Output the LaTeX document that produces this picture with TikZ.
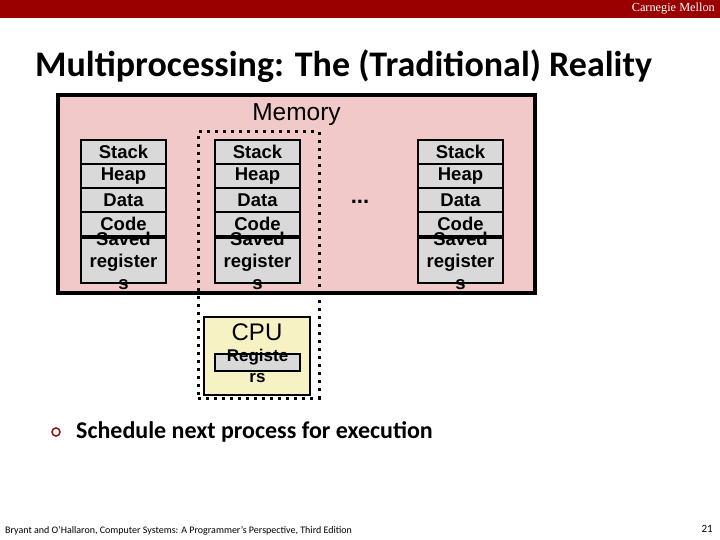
\documentclass[tikz,border=0pt]{standalone}
\usepackage{fontspec}
\setmainfont{Carlito}
\newfontfamily\arialfont{Liberation Sans}
\newfontfamily\cmufont{Liberation Serif}
\usetikzlibrary{positioning}

\definecolor{cmured}{RGB}{153,0,0}
\definecolor{mempink}{RGB}{241,201,201}
\definecolor{rowgray}{RGB}{217,217,217}
\definecolor{cpuyellow}{RGB}{247,242,196}
\definecolor{bulletred}{RGB}{140,26,26}

\begin{document}
\begin{tikzpicture}[
  x=1pt, y=-1pt,
  segment/.style={
    draw,
    line width=2.5pt,
    fill=rowgray,
    minimum width=85pt,
    minimum height=24pt,
    inner sep=0pt,
    outer sep=0pt,
    font=\arialfont\bfseries\fontsize{18.5}{20}\selectfont
  },
  savedbox/.style={
    segment,
    minimum height=45pt,
    label={[font=\arialfont\bfseries\fontsize{18.5}{22}\selectfont,align=center,inner sep=0pt]center:Saved\\register\\s}
  },
  bigtext/.style={font=\arialfont\fontsize{24}{26}\selectfont, inner sep=0pt}
]
  \useasboundingbox (0,0) rectangle (720,540);

  % header bar
  \fill[cmured] (0,0) rectangle (720,18);
  \node[anchor=east, text=white, font=\cmufont\fontsize{12.3}{13}\selectfont, inner sep=0pt] (cmu) at (715,9) {Carnegie Mellon};
  \node[anchor=west, font=\bfseries\fontsize{36}{38}\selectfont, inner sep=0pt] (title) at (35,66) {Multiprocessing: The (Traditional) Reality};

  % memory
  \node[draw, line width=3.5pt, fill=mempink, minimum width=477pt, minimum height=198pt] (memory) at (296.5,194) {};
  \node[bigtext, font=\arialfont\fontsize{24.5}{26}\selectfont, below=10pt of memory.north] (memlabel) {Memory};

  % current process
  \node[draw, line width=3pt, dash pattern=on 3pt off 5pt, minimum width=121pt, minimum height=266pt] (current) at (258.5,265) {};

  % process 1
  \node[segment] (stack1) at (123.5,152) {Stack};
  \node[segment, below=0pt of stack1] (heap1) {Heap};
  \node[segment, below=0pt of heap1] (data1) {Data};
  \node[segment, below=0pt of data1] (code1) {Code};
  \node[savedbox, below=2pt of code1] (saved1) {};

  % process 2
  \node[segment] (stack2) at (257.5,152) {Stack};
  \node[segment, below=0pt of stack2] (heap2) {Heap};
  \node[segment, below=0pt of heap2] (data2) {Data};
  \node[segment, below=0pt of data2] (code2) {Code};
  \node[savedbox, below=2pt of code2] (saved2) {};

  % process n
  \node[segment] (stack3) at (460.5,152) {Stack};
  \node[segment, below=0pt of stack3] (heap3) {Heap};
  \node[segment, below=0pt of heap3] (data3) {Data};
  \node[segment, below=0pt of data3] (code3) {Code};
  \node[savedbox, below=2pt of code3] (saved3) {};

  \node[font=\arialfont\bfseries\fontsize{22}{24}\selectfont] (dots) at (360,202) {...};

  % cpu
  \node[draw, line width=2.5pt, fill=cpuyellow, minimum width=106pt, minimum height=78pt] (cpu) at (257,356) {};
  \node[bigtext, below=8pt of cpu.north] (cpulabel) {CPU};
  \node[segment, minimum height=17pt,
    label={[font=\arialfont\bfseries\fontsize{17}{21}\selectfont,align=center,inner sep=0pt,yshift=-3pt]center:Registe\\rs}] (regs) at (257.5,362.5) {};

  % bullet
  \node[circle, draw=bulletred, line width=1.6pt, minimum size=8pt, inner sep=0pt] (bullet) at (56,432) {};
  \node[anchor=west, font=\bfseries\fontsize{24}{26}\selectfont, inner sep=0pt] (schedule) at (76,432) {Schedule next process for execution};

  % footer
  \node[anchor=west, font=\fontsize{10}{11}\selectfont, inner sep=0pt] (source) at (5,531) {Bryant and O'Hallaron, Computer Systems: A Programmer's Perspective, Third Edition};
  \node[anchor=east, font=\fontsize{11}{12}\selectfont, inner sep=0pt] (page) at (713,529) {21};
\end{tikzpicture}
\end{document}
